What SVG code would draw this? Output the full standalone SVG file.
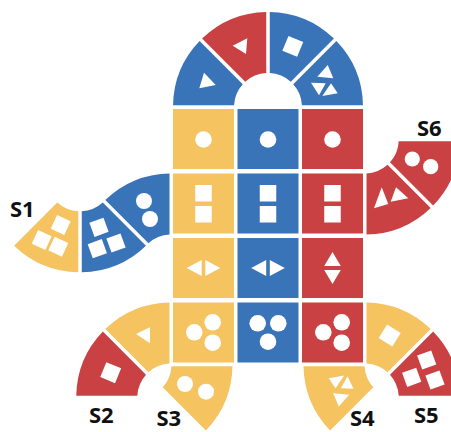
<svg xmlns="http://www.w3.org/2000/svg" width="451" height="432" viewBox="0 0 451 432">
<defs>
<style>
.y{fill:#F5C360}.b{fill:#3A74B8}.r{fill:#C94143}.w{fill:#FFFFFF}
.lbl{font-family:"Open Sans","DejaVu Sans",sans-serif;font-weight:700;font-size:22px;fill:#111111}
</style>
<rect id="sq16" x="-8" y="-8" width="16" height="16"/>
<rect id="sq15" x="-7.5" y="-7.5" width="15" height="15"/>
</defs>
<rect width="451" height="432" fill="#FFFFFF"/>

<!-- arch -->
<g id="arch1"><path class="b" d="M173.02,105.25 A95,95 0 0 1 199.60,41.07 L242.75,84.23 A34,34 0 0 0 234.05,105.25 Z"/><polygon class="w" points="199.3,88.3 204,72.7 215.7,85"/></g>
<g id="arch2"><path class="r" d="M202.07,38.60 A95,95 0 0 1 266.25,12.02 L266.25,73.05 A34,34 0 0 0 245.23,81.75 Z"/><polygon class="w" points="232.7,45.7 247.3,38.3 246,54"/></g>
<g id="arch3"><path class="b" d="M269.75,12.02 A95,95 0 0 1 333.93,38.60 L290.77,81.75 A34,34 0 0 0 269.75,73.05 Z"/><use href="#sq16" class="w" transform="translate(292.8,46.4) rotate(22.5)"/></g>
<g id="arch4"><path class="b" d="M336.40,41.07 A95,95 0 0 1 362.98,105.25 L301.96,105.25 A34,34 0 0 0 293.25,84.23 Z"/>
<polygon class="w" points="327.7,65 317.3,76.7 333.3,78.3"/><polygon class="w" points="311,82.7 325.7,83.3 319,95.3"/><polygon class="w" points="331,83.3 337.7,93.3 322.3,96"/></g>

<!-- grid row 1 -->
<g id="c11"><rect class="y" x="173" y="109" width="61" height="60"/><circle class="w" cx="203.5" cy="139.5" r="8.3"/></g>
<g id="c12"><rect class="b" x="237.5" y="109" width="61" height="60"/><circle class="w" cx="268" cy="139.5" r="8.3"/></g>
<g id="c13"><rect class="r" x="302" y="109" width="61" height="60"/><circle class="w" cx="332.5" cy="139.5" r="8.3"/></g>
<!-- row 2 -->
<g id="c21"><rect class="y" x="173" y="173.5" width="61" height="60"/><rect class="w" x="195.25" y="185" width="16.5" height="16.5"/><rect class="w" x="195.25" y="206" width="16.5" height="16.5"/></g>
<g id="c22"><rect class="b" x="237.5" y="173.5" width="61" height="60"/><rect class="w" x="259.75" y="185" width="16.5" height="16.5"/><rect class="w" x="259.75" y="206" width="16.5" height="16.5"/></g>
<g id="c23"><rect class="r" x="302" y="173.5" width="61" height="60"/><rect class="w" x="324.25" y="185" width="16.5" height="16.5"/><rect class="w" x="324.25" y="206" width="16.5" height="16.5"/></g>
<!-- row 3 -->
<g id="c31"><rect class="y" x="173" y="238" width="61" height="60"/><polygon class="w" points="186.7,268 201.7,260 201.7,276"/><polygon class="w" points="220.3,268 205.3,260 205.3,276"/></g>
<g id="c32"><rect class="b" x="237.5" y="238" width="61" height="60"/><polygon class="w" points="251.2,268 266.2,260 266.2,276"/><polygon class="w" points="284.8,268 269.8,260 269.8,276"/></g>
<g id="c33"><rect class="r" x="302" y="238" width="61" height="60"/><polygon class="w" points="332.5,252 324.2,266 340.8,266"/><polygon class="w" points="332.5,284 324.2,270 340.8,270"/></g>
<!-- row 4 -->
<g id="c41"><rect class="y" x="173" y="302.5" width="61" height="60"/><circle class="w" cx="194.3" cy="332.3" r="8.3"/><circle class="w" cx="212.7" cy="322.3" r="8.3"/><circle class="w" cx="212.7" cy="342.7" r="8.3"/></g>
<g id="c42"><rect class="b" x="237.5" y="302.5" width="61" height="60"/><circle class="w" cx="257.7" cy="323.3" r="8.3"/><circle class="w" cx="278.3" cy="323.3" r="8.3"/><circle class="w" cx="268" cy="341.7" r="8.3"/></g>
<g id="c43"><rect class="r" x="302" y="302.5" width="61" height="60"/><circle class="w" cx="323.3" cy="332.3" r="8.3"/><circle class="w" cx="341.7" cy="322.3" r="8.3"/><circle class="w" cx="341.7" cy="342.7" r="8.3"/></g>

<!-- S1 arm -->
<g id="s1a"><path class="b" d="M105.32,200.10 A95,95 0 0 1 169.50,173.52 L169.50,234.55 A34,34 0 0 0 148.48,243.25 Z"/><circle class="w" cx="144" cy="201" r="8"/><circle class="w" cx="150" cy="219" r="8"/></g>
<g id="s1b"><path class="b" d="M145.96,245.68 A95,95 0 0 1 81.78,272.26 L81.78,211.24 A34,34 0 0 0 102.80,202.53 Z"/>
<use href="#sq15" class="w" transform="translate(99,227.3) rotate(-20)"/><use href="#sq15" class="w" transform="translate(97.3,248.7) rotate(-20)"/><use href="#sq15" class="w" transform="translate(116,243) rotate(-20)"/></g>
<g id="s1"><path class="y" d="M78.28,272.26 A95,95 0 0 1 14.10,245.68 L57.26,202.53 A34,34 0 0 0 78.28,211.24 Z"/>
<use href="#sq15" class="w" transform="translate(60.7,225) rotate(25)"/><use href="#sq15" class="w" transform="translate(41.7,240) rotate(25)"/><use href="#sq15" class="w" transform="translate(58.3,246.7) rotate(25)"/></g>

<!-- S6 arm -->
<g id="s6"><path class="r" d="M459.73,141.25 A95,95 0 0 1 433.15,205.43 L390.00,162.27 A34,34 0 0 0 398.71,141.25 Z"/><circle class="w" cx="412.3" cy="159" r="7.6"/><circle class="w" cx="430.7" cy="166.7" r="7.6"/></g>
<g id="s6b"><path class="r" d="M430.68,207.90 A95,95 0 0 1 366.50,234.48 L366.50,173.46 A34,34 0 0 0 387.52,164.75 Z"/>
<polygon class="w" points="374,208.3 381.7,187.3 388.3,204"/><polygon class="w" points="390.7,201.7 396,187.3 408.3,198.3"/></g>

<!-- bottom-left -->
<g id="s2a"><path class="y" d="M105.32,329.10 A95,95 0 0 1 169.50,302.52 L169.50,363.55 A34,34 0 0 0 148.48,372.25 Z"/><polygon class="w" points="136,334 150,327.3 150,343.3"/></g>
<g id="s2"><path class="r" d="M76.27,395.75 A95,95 0 0 1 102.85,331.57 L146.00,374.73 A34,34 0 0 0 137.30,395.75 Z"/><use href="#sq16" class="w" transform="translate(110.7,372.7) rotate(22.5)"/></g>
<g id="s3"><path class="y" d="M232.48,366.25 A95,95 0 0 1 205.90,430.43 L162.75,387.27 A34,34 0 0 0 171.46,366.25 Z"/><circle class="w" cx="185" cy="384" r="8"/><circle class="w" cx="206" cy="391.7" r="8"/></g>

<!-- bottom-right -->
<g id="s5a"><path class="y" d="M366.50,302.52 A95,95 0 0 1 430.68,329.10 L387.52,372.25 A34,34 0 0 0 366.50,363.55 Z"/><use href="#sq16" class="w" transform="translate(389.7,335.5) rotate(32)"/></g>
<g id="s5"><path class="r" d="M433.15,331.57 A95,95 0 0 1 459.73,395.75 L398.71,395.75 A34,34 0 0 0 390.00,374.73 Z"/>
<use href="#sq15" class="w" transform="translate(426.7,360) rotate(-20)"/><use href="#sq15" class="w" transform="translate(411.7,377.3) rotate(-20)"/><use href="#sq15" class="w" transform="translate(435,380) rotate(-20)"/></g>
<g id="s4"><path class="y" d="M330.10,430.43 A95,95 0 0 1 303.52,366.25 L364.55,366.25 A34,34 0 0 0 373.25,387.27 Z"/>
<polygon class="w" points="338.8,406.5 349.2,394.8 333.2,393.2"/><polygon class="w" points="353.5,388.8 340.8,388.2 347.5,376.2"/><polygon class="w" points="335.5,388.2 328.8,378.2 344.2,375.5"/></g>

<!-- labels -->
<g id="labels">
<text class="lbl" x="10" y="216.5">S1</text>
<text class="lbl" x="417" y="136">S6</text>
<text class="lbl" x="89" y="422.5">S2</text>
<text class="lbl" x="156.5" y="426">S3</text>
<text class="lbl" x="350" y="426">S4</text>
<text class="lbl" x="414" y="423">S5</text>
</g>
</svg>
